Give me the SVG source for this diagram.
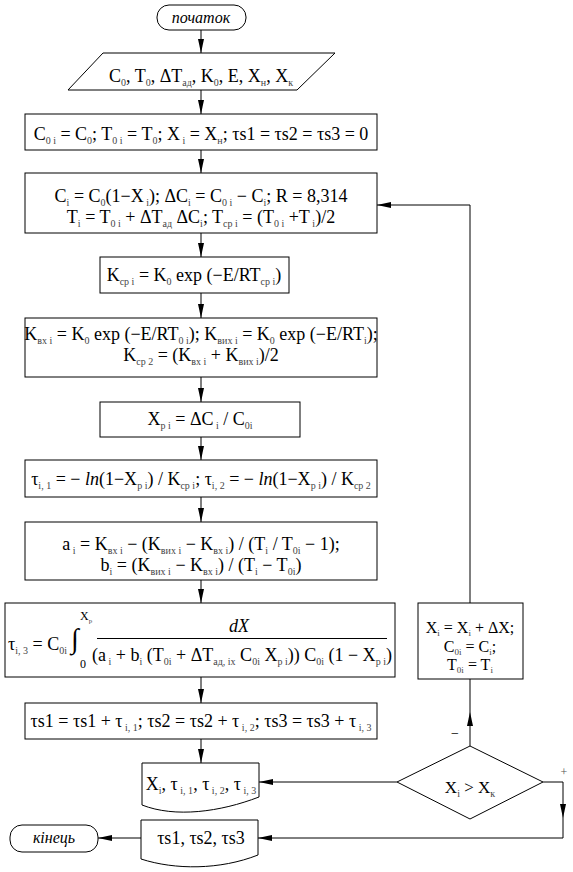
<svg xmlns="http://www.w3.org/2000/svg" width="573" height="872" viewBox="0 0 573 872" font-family="'Liberation Serif', 'DejaVu Serif', 'Times New Roman', serif">
<style>
.b{fill:#fff;stroke:#000;stroke-width:1}
.c{fill:none;stroke:#000;stroke-width:1}
text{font-family:'Liberation Serif','DejaVu Serif','Times New Roman',serif}
.t{font-size:18px;fill:#000;text-anchor:middle}
.l{text-anchor:start}
.s{font-size:10px;fill:#444}
.i{font-style:italic}
</style>
<defs>
<marker id="ah" viewBox="0 0 14 8" refX="14" refY="4" markerWidth="14" markerHeight="8" orient="auto" markerUnits="userSpaceOnUse"><path d="M0,1 L14,4 L0,7 z" fill="#000"/></marker>
</defs>
<g id="connectors">
<path class="c" d="M201,30 V53" marker-end="url(#ah)"/>
<path class="c" d="M201,90 V114" marker-end="url(#ah)"/>
<path class="c" d="M201,150 V173" marker-end="url(#ah)"/>
<path class="c" d="M201,233 V257" marker-end="url(#ah)"/>
<path class="c" d="M201,293 V318" marker-end="url(#ah)"/>
<path class="c" d="M201,377 V402" marker-end="url(#ah)"/>
<path class="c" d="M201,437 V460" marker-end="url(#ah)"/>
<path class="c" d="M201,497 V522" marker-end="url(#ah)"/>
<path class="c" d="M201,580 V603" marker-end="url(#ah)"/>
<path class="c" d="M201,677 V703" marker-end="url(#ah)"/>
<path class="c" d="M201,739 V763" marker-end="url(#ah)"/>
<path class="c" d="M397,782 H259" marker-end="url(#ah)"/>
<path class="c" d="M470,746 V712" marker-end="url(#ah)"/>
<path class="c" d="M470,712 V679"/>
<path class="c" d="M470,603 V205 H377" marker-end="url(#ah)"/>
<path class="c" d="M543,782 H563 V818" marker-end="url(#ah)"/>
<path class="c" d="M563,818 V838 H258" marker-end="url(#ah)"/>
<path class="c" d="M141,838 H98" marker-end="url(#ah)"/>
</g>
<g id="start">
<rect class="b" x="157" y="5" width="89" height="25" rx="12"/>
<text class="t i" x="201" y="23" style="font-size:16px">початок</text>
</g>
<g id="input">
<path class="b" d="M103,53 H335 L297,90 H68 Z"/>
<text class="t" x="201" y="82">C<tspan class="s" dy="4">0</tspan><tspan dy="-4">, T</tspan><tspan class="s" dy="4">0</tspan><tspan dy="-4">, ΔT</tspan><tspan class="s" dy="4">ад</tspan><tspan dy="-4">, K</tspan><tspan class="s" dy="4">0</tspan><tspan dy="-4">, E, X</tspan><tspan class="s" dy="4">н</tspan><tspan dy="-4">, X</tspan><tspan class="s" dy="4">к</tspan></text>
</g>
<g id="init">
<rect class="b" x="25" y="114" width="352" height="36"/>
<text class="t" x="201" y="140">C<tspan class="s" dy="4">0 i</tspan><tspan dy="-4"> = C</tspan><tspan class="s" dy="4">0</tspan><tspan dy="-4">; T</tspan><tspan class="s" dy="4">0 i</tspan><tspan dy="-4"> = T</tspan><tspan class="s" dy="4">0</tspan><tspan dy="-4">; X</tspan><tspan class="s" dy="4"> i</tspan><tspan dy="-4"> = X</tspan><tspan class="s" dy="4">н</tspan><tspan dy="-4">; τs1 = τs2 = τs3 = 0</tspan></text>
</g>
<g id="calc-c">
<rect class="b" x="25" y="173" width="352" height="60"/>
<text class="t" x="201" y="202">C<tspan class="s" dy="4">i</tspan><tspan dy="-4"> = C</tspan><tspan class="s" dy="4">0</tspan><tspan dy="-4">(1−X</tspan><tspan class="s" dy="4"> i</tspan><tspan dy="-4">);  ΔC</tspan><tspan class="s" dy="4">i</tspan><tspan dy="-4"> = C</tspan><tspan class="s" dy="4">0 i</tspan><tspan dy="-4"> − C</tspan><tspan class="s" dy="4">i</tspan><tspan dy="-4">; R = 8,314</tspan></text>
<text class="t" x="201" y="223">T<tspan class="s" dy="4">i</tspan><tspan dy="-4"> = T</tspan><tspan class="s" dy="4">0 i</tspan><tspan dy="-4"> + ΔT</tspan><tspan class="s" dy="4">ад</tspan><tspan dy="-4"> ΔC</tspan><tspan class="s" dy="4">i</tspan><tspan dy="-4">; T</tspan><tspan class="s" dy="4">ср i</tspan><tspan dy="-4"> = (T</tspan><tspan class="s" dy="4">0 i</tspan><tspan dy="-4"> +T</tspan><tspan class="s" dy="4"> i</tspan><tspan dy="-4">)/2</tspan></text>
</g>
<g id="calc-kcp1">
<rect class="b" x="100" y="257" width="189" height="36"/>
<text class="t" x="194" y="281">K<tspan class="s" dy="4">ср i</tspan><tspan dy="-4"> = K</tspan><tspan class="s" dy="4">0</tspan><tspan dy="-4">  exp (−E/RT</tspan><tspan class="s" dy="4">ср i</tspan><tspan dy="-4">)</tspan></text>
</g>
<g id="calc-k">
<rect class="b" x="25" y="318" width="352" height="59"/>
<text class="t" x="201" y="340">K<tspan class="s" dy="4">вх i</tspan><tspan dy="-4"> = K</tspan><tspan class="s" dy="4">0</tspan><tspan dy="-4">  exp (−E/RT</tspan><tspan class="s" dy="4">0 i</tspan><tspan dy="-4">); K</tspan><tspan class="s" dy="4">вих i</tspan><tspan dy="-4"> = K</tspan><tspan class="s" dy="4">0</tspan><tspan dy="-4">  exp (−E/RT</tspan><tspan class="s" dy="4">i</tspan><tspan dy="-4">);</tspan></text>
<text class="t" x="201" y="361">K<tspan class="s" dy="4">ср 2</tspan><tspan dy="-4">  = (K</tspan><tspan class="s" dy="4">вх i</tspan><tspan dy="-4"> + K</tspan><tspan class="s" dy="4">вих i</tspan><tspan dy="-4">)/2</tspan></text>
</g>
<g id="calc-xp">
<rect class="b" x="100" y="402" width="200" height="35"/>
<text class="t" x="200" y="425">X<tspan class="s" dy="4">р i</tspan><tspan dy="-4"> = ΔC</tspan><tspan class="s" dy="4"> i</tspan><tspan dy="-4"> / C</tspan><tspan class="s" dy="4">0i</tspan></text>
</g>
<g id="calc-tau">
<rect class="b" x="25" y="460" width="352" height="37"/>
<text class="t" x="201" y="485">τ<tspan class="s" dy="4">i, 1</tspan><tspan dy="-4"> = − </tspan><tspan class="i">ln</tspan><tspan>(1−X</tspan><tspan class="s" dy="4">р i</tspan><tspan dy="-4">) / K</tspan><tspan class="s" dy="4">ср i</tspan><tspan dy="-4">; τ</tspan><tspan class="s" dy="4">i, 2</tspan><tspan dy="-4"> = − </tspan><tspan class="i">ln</tspan><tspan>(1−X</tspan><tspan class="s" dy="4">р i</tspan><tspan dy="-4">) / K</tspan><tspan class="s" dy="4">ср 2</tspan></text>
</g>
<g id="calc-ab">
<rect class="b" x="25" y="522" width="352" height="58"/>
<text class="t" x="201" y="550">a<tspan class="s" dy="4"> i</tspan><tspan dy="-4"> = K</tspan><tspan class="s" dy="4">вх i</tspan><tspan dy="-4"> − (K</tspan><tspan class="s" dy="4">вих i</tspan><tspan dy="-4"> − K</tspan><tspan class="s" dy="4">вх i</tspan><tspan dy="-4">) / (T</tspan><tspan class="s" dy="4">i</tspan><tspan dy="-4"> / T</tspan><tspan class="s" dy="4">0i</tspan><tspan dy="-4"> − 1);</tspan></text>
<text class="t" x="201" y="571">b<tspan class="s" dy="4">i</tspan><tspan dy="-4"> = (K</tspan><tspan class="s" dy="4">вих i</tspan><tspan dy="-4"> − K</tspan><tspan class="s" dy="4">вх i</tspan><tspan dy="-4">) / (T</tspan><tspan class="s" dy="4">i</tspan><tspan dy="-4"> − T</tspan><tspan class="s" dy="4">0i</tspan><tspan dy="-4">)</tspan></text>
</g>
<g id="calc-integral">
<rect class="b" x="5" y="603" width="390" height="74"/>
<text class="t l" x="8" y="650">τ<tspan class="s" dy="4">i, 3</tspan><tspan dy="-4"> = C</tspan><tspan class="s" dy="4">0i</tspan></text>
<text class="t l" x="71" y="648" style="font-size:28px">∫</text>
<text class="t l" x="80" y="620" style="font-size:12px">X<tspan class="s" dy="3" style="font-size:7px">р</tspan></text>
<text class="t l" x="80" y="668" style="font-size:12px">0</text>
<line class="c" x1="97" y1="638.5" x2="387" y2="638.5"/>
<text class="t i" x="239" y="632">dX</text>
<text class="t" x="242" y="661">(a<tspan class="s" dy="4"> i</tspan><tspan dy="-4"> +  b</tspan><tspan class="s" dy="4">i</tspan><tspan dy="-4"> (T</tspan><tspan class="s" dy="4">0i</tspan><tspan dy="-4"> + ΔT</tspan><tspan class="s" dy="4">ад, iх</tspan><tspan dy="-4"> C</tspan><tspan class="s" dy="4">0i</tspan><tspan dy="-4"> X</tspan><tspan class="s" dy="4">р i</tspan><tspan dy="-4">)) C</tspan><tspan class="s" dy="4">0i</tspan><tspan dy="-4"> (1 − X</tspan><tspan class="s" dy="4">р i</tspan><tspan dy="-4">)</tspan></text>
</g>
<g id="accumulate">
<rect class="b" x="25" y="703" width="352" height="36"/>
<text class="t" x="201" y="727">τs1 = τs1 + τ<tspan class="s" dy="4"> i, 1</tspan><tspan dy="-4">; τs2 = τs2 + τ</tspan><tspan class="s" dy="4"> i, 2</tspan><tspan dy="-4">; τs3 = τs3 + τ</tspan><tspan class="s" dy="4"> i, 3</tspan></text>
</g>
<g id="output-step">
<path class="b" d="M142,763 H259 V797 C220,812 175,818 142,805 Z"/>
<text class="t" x="201" y="790">X<tspan class="s" dy="4">i</tspan><tspan dy="-4">, τ</tspan><tspan class="s" dy="4"> i, 1</tspan><tspan dy="-4">, τ</tspan><tspan class="s" dy="4"> i, 2</tspan><tspan dy="-4">, τ</tspan><tspan class="s" dy="4"> i, 3</tspan></text>
</g>
<g id="output-total">
<path class="b" d="M141,820 H258 V855 C220,870 175,870 141,859 Z"/>
<text class="t" x="201" y="844">τs1, τs2, τs3</text>
</g>
<g id="end">
<rect class="b" x="10" y="825" width="88" height="27" rx="12"/>
<text class="t i" x="54" y="843" style="font-size:16px">кінець</text>
</g>
<g id="update">
<rect class="b" x="418" y="603" width="105" height="76"/>
<text class="t" x="470" y="633" style="font-size:16px">X<tspan class="s" dy="3" style="font-size:9px">i</tspan><tspan dy="-3"> = X</tspan><tspan class="s" dy="3" style="font-size:9px">i</tspan><tspan dy="-3"> + ΔX;</tspan></text>
<text class="t" x="470" y="652" style="font-size:16px">C<tspan class="s" dy="3" style="font-size:9px">0i</tspan><tspan dy="-3"> = C</tspan><tspan class="s" dy="3" style="font-size:9px">i</tspan><tspan dy="-3">;</tspan></text>
<text class="t" x="470" y="670" style="font-size:16px">T<tspan class="s" dy="3" style="font-size:9px">0i</tspan><tspan dy="-3"> = T</tspan><tspan class="s" dy="3" style="font-size:9px">i</tspan></text>
</g>
<g id="decision">
<path class="b" d="M470,746 L543,782 L470,819 L397,782 Z"/>
<text class="t" x="470" y="793" style="font-size:17px">X<tspan class="s" dy="4">i</tspan><tspan dy="-4"> &gt; X</tspan><tspan class="s" dy="4">к</tspan></text>
<text class="t" x="455" y="738" style="font-size:14px">−</text>
<text class="t" x="564" y="776" style="font-size:12px;fill:#555">+</text>
</g>
</svg>
